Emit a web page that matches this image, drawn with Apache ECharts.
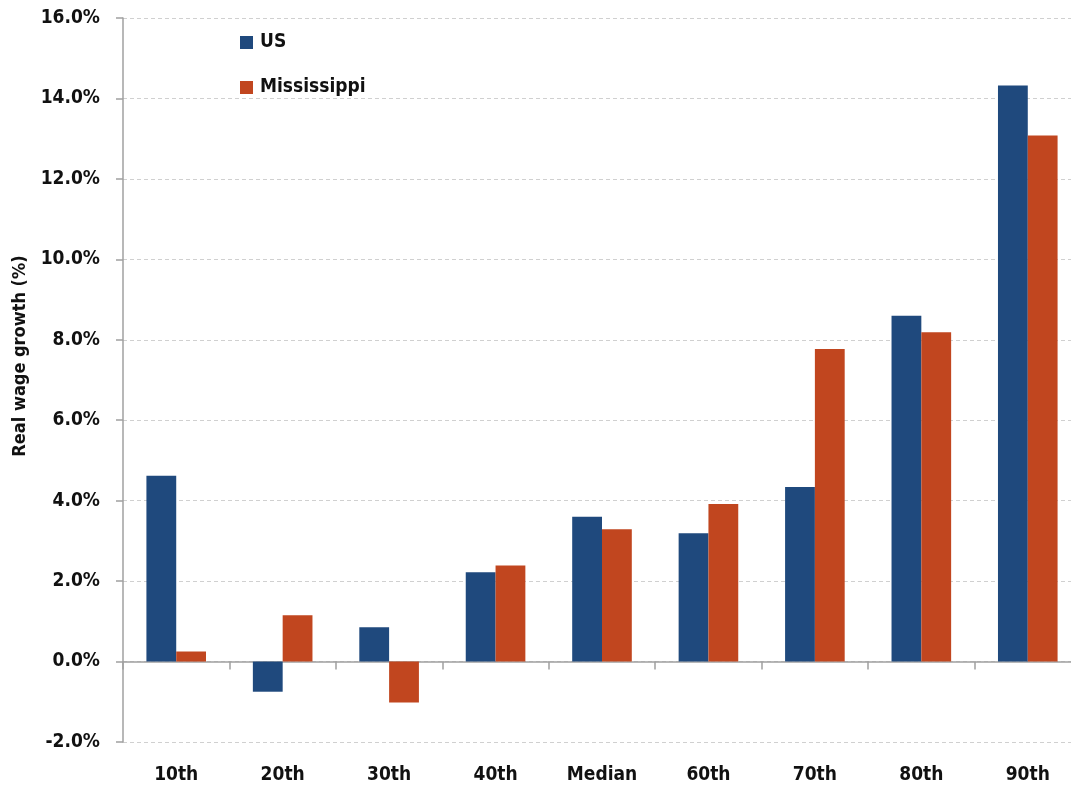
<!DOCTYPE html>
<html>
<head>
<meta charset="utf-8">
<script src="https://cdn.jsdelivr.net/npm/echarts@6/dist/echarts.min.js"></script>
<style>
  html, body { margin: 0; padding: 0; background: #fff; }
  #chart { width: 1071px; height: 787px; }
</style>
</head>
<body>
<div id="chart"></div>
<script>
// Wage percentiles along the horizontal axis
const categories = ['10th', '20th', '30th', '40th', 'Median', '60th', '70th', '80th', '90th'];
// Real wage growth, percent
const usValues = [4.62, -0.75, 0.85, 2.22, 3.60, 3.19, 4.34, 8.60, 14.32];
const msValues = [0.25, 1.15, -1.02, 2.39, 3.29, 3.92, 7.77, 8.19, 13.08];
const seriesNames = ['US', 'Mississippi'];

const FONT = '"DejaVu Sans Condensed", "DejaVu Sans", sans-serif';
const US_COLOR = '#1f497d';
const MS_COLOR = '#c1461f';

const chart = echarts.init(document.getElementById('chart'), null, { renderer: 'canvas' });

chart.setOption({
  animation: false,
  backgroundColor: '#ffffff',
  textStyle: { fontFamily: FONT },
  grid: { left: 123, top: 18, right: -10, bottom: 45, containLabel: false, outerBoundsMode: 'none' },
  legend: {
    orient: 'vertical',
    left: 240,
    top: 33,
    padding: 0,
    itemWidth: 13,
    itemHeight: 13,
    itemGap: 26,
    icon: 'rect',
    data: seriesNames,
    textStyle: { fontFamily: FONT, fontSize: 19, fontWeight: 'bold', color: '#111', padding: [0, 0, 0, 2] }
  },
  xAxis: [
    {
      // category labels along the bottom edge
      type: 'category',
      data: categories,
      position: 'bottom',
      axisLine: { show: false, onZero: false },
      axisTick: { show: false },
      axisLabel: { fontFamily: FONT, fontSize: 19, fontWeight: 'bold', color: '#111', margin: 24 }
    },
    {
      // baseline at 0% with category separators
      type: 'category',
      data: categories,
      position: 'bottom',
      axisLine: { show: true, onZero: true, lineStyle: { color: '#a0a0a0', width: 1.5 } },
      axisTick: { show: true, length: 8, lineStyle: { color: '#a0a0a0', width: 1.5 } },
      axisLabel: { show: false }
    }
  ],
  yAxis: {
    type: 'value',
    min: -2,
    max: 16,
    interval: 2,
    name: 'Real wage growth (%)',
    nameLocation: 'middle',
    nameGap: 94,
    nameTextStyle: { fontFamily: FONT, fontSize: 18, fontWeight: 'bold', color: '#111', padding: [0, 0, 0, 48] },
    axisLine: { show: true, lineStyle: { color: '#a0a0a0', width: 1.5 } },
    axisTick: { show: true, length: 7, lineStyle: { color: '#a0a0a0', width: 1.5 } },
    axisLabel: {
      fontFamily: FONT, fontSize: 19, fontWeight: 'bold', color: '#111', margin: 23,
      formatter: v => v.toFixed(1) + '%'
    },
    splitLine: { show: true, lineStyle: { color: '#d0d0d0', type: [4, 3], width: 1 } }
  },
  series: [
    {
      name: seriesNames[0],
      type: 'bar',
      xAxisIndex: 0,
      data: usValues,
      barGap: '0%',
      barCategoryGap: '44%',
      itemStyle: { color: US_COLOR }
    },
    {
      name: seriesNames[1],
      type: 'bar',
      xAxisIndex: 0,
      data: msValues,
      barGap: '0%',
      barCategoryGap: '44%',
      itemStyle: { color: MS_COLOR }
    }
  ]
});
</script>
</body>
</html>
